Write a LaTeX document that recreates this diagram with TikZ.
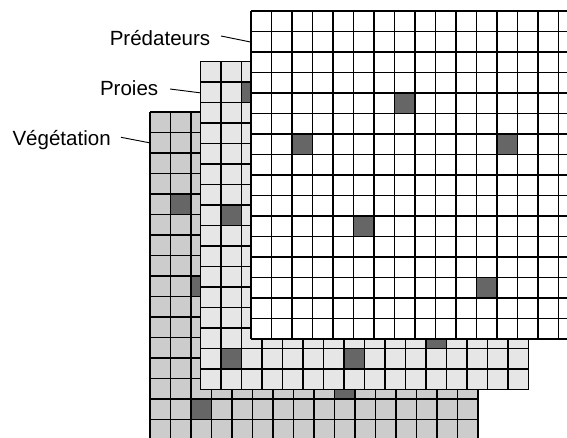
\documentclass[tikz,border=0pt]{standalone}
\usepackage{fontspec}
\setmainfont{Liberation Sans}
\begin{document}
\begin{tikzpicture}[x=0.75pt,y=-0.75pt,
  gridline/.style={black,line width=0.85pt},
  darkcell/.style={fill={rgb,255:red,102;green,102;blue,102}},
  lbl/.style={inner sep=0pt,font=\fontsize{15.4pt}{18pt}\selectfont},
  leader/.style={black,line width=0.7pt}]
\useasboundingbox (0,0) rectangle (567,438);
\clip (0,0) rectangle (567,438);
\newcommand{\mylayer}[4]{%
  \begin{scope}[shift={(#1,#2)}]
    \fill[#3] (0,0) rectangle (328,328);
    \foreach \c/\r in {#4} {\fill[darkcell] (\c*20.5,\r*20.5) rectangle ++(20.5,20.5);}
    \foreach \i in {0,...,16} {
      \draw[gridline] (\i*20.5,0) -- (\i*20.5,328);
      \draw[gridline] (0,\i*20.5) -- (328,\i*20.5);
    }
  \end{scope}}
% Vegetation
\mylayer{150}{112}{fill={rgb,255:red,204;green,204;blue,204}}{1/4,2/8,2/14,9/13}
% Proies
\mylayer{200.5}{61.5}{fill={rgb,255:red,230;green,230;blue,230}}{2/1,1/7,1/14,7/14,11/13}
% Predateurs
\mylayer{251}{11}{fill=white}{7/4,2/6,12/6,5/10,11/13}
% labels
\node[lbl,anchor=base east] (pred) at (210.5,45.5) {Prédateurs};
\node[lbl,anchor=base east] (proies) at (158.5,95.3) {Proies};
\node[lbl,anchor=base east] (veg) at (111,145.3) {Végétation};
\coordinate (predS) at (221,36);
\coordinate (predE) at (250.5,42);
\coordinate (proiesS) at (170,89);
\coordinate (proiesE) at (200,92.8);
\coordinate (vegS) at (121,137.3);
\coordinate (vegE) at (149.5,142.8);
\draw[leader] (predS) -- (predE);
\draw[leader] (proiesS) -- (proiesE);
\draw[leader] (vegS) -- (vegE);
\end{tikzpicture}
\end{document}
